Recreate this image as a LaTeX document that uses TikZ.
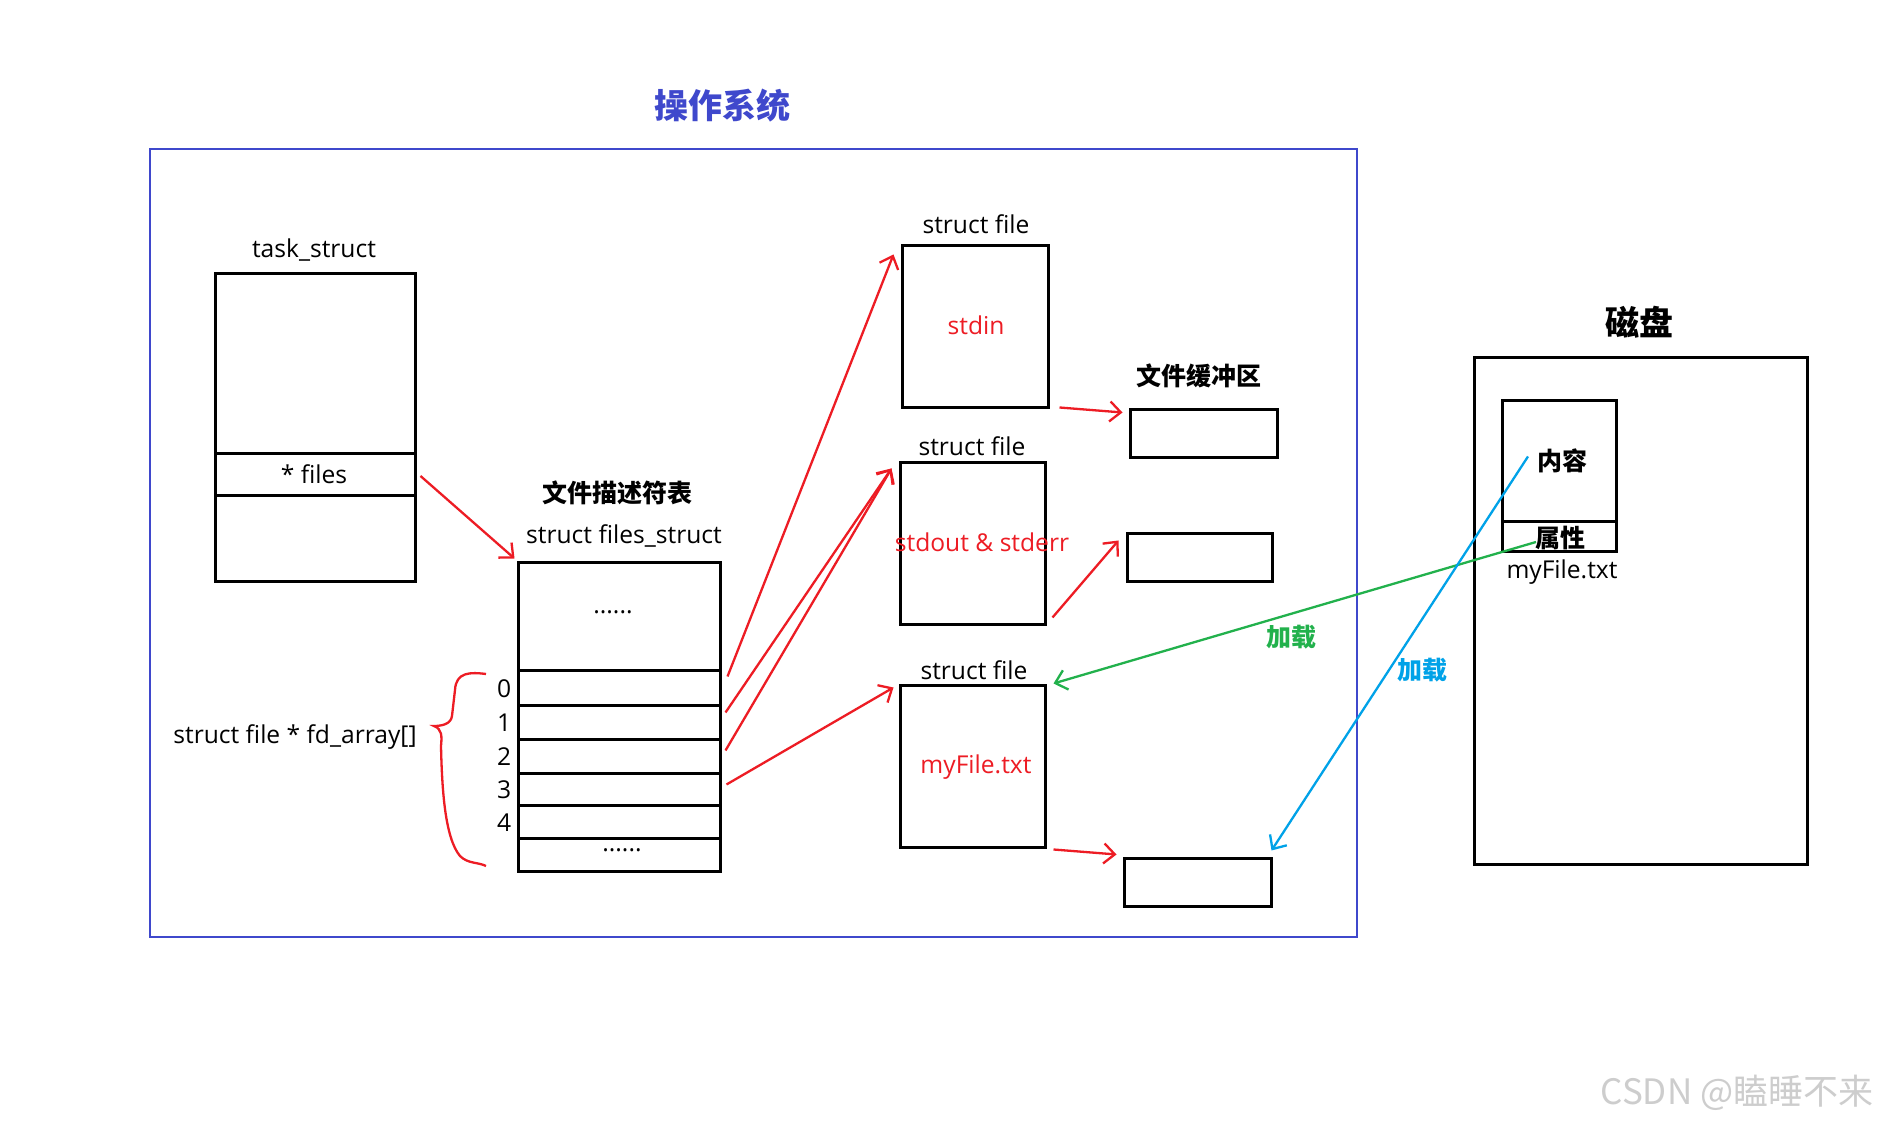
\documentclass[tikz,border=0pt]{standalone}
\usepackage{fontspec}
\setmainfont{Open Sans}
\newfontfamily\cjk{Noto Sans CJK SC}
\usetikzlibrary{arrows.meta,fit,calc}
\definecolor{osblue}{RGB}{63,72,204}
\definecolor{pred}{RGB}{237,28,36}
\definecolor{pgreen}{RGB}{34,177,76}
\definecolor{pblue}{RGB}{0,162,232}
\definecolor{wmgray}{RGB}{205,205,205}
\begin{document}
\begin{tikzpicture}[x=0.5pt,y=-0.5pt,
  box/.style={draw=black,line width=1.5pt,inner sep=0pt},
  lbl/.style={font=\fontsize{12.3}{14}\selectfont,inner sep=0pt},
  redlbl/.style={lbl,text=pred},
  cjklbl/.style={font=\cjk\bfseries\fontsize{12.5}{14}\selectfont,inner sep=0pt},
  bigcjk/.style={font=\cjk\bfseries\fontsize{17}{19}\selectfont,inner sep=0pt},
  tipstyle/.style={-{Straight Barb[length=5.5pt,width=10pt]}},
  rarrow/.style={draw=pred,line width=1.15pt,tipstyle},
  garrow/.style={draw=pgreen,line width=1.15pt,tipstyle},
  barrow/.style={draw=pblue,line width=1.15pt,tipstyle}
]
\useasboundingbox[fill=white] (0,0) rectangle (1881,1127);

% OS frame and title
\node[draw=osblue,line width=1.4pt,inner sep=0pt,fit={(150,149)(1357,937)}] (os) {};
\node[bigcjk,text=osblue] (ostitle) at (722,106) {操作系统};

% task_struct
\node[lbl] (tasklbl) at (314,250) {task\_struct};
\node[box,fit={(215,274)(415,582)}] (task) {};
\node[box,fit={(215,454)(415,496)}] (filesrow) {};
\node[lbl] (fileslbl) at (314,474) {* files};

% files_struct
\node[cjklbl] (fdtlbl) at (617,493) {文件描述符表};
\node[lbl] (fslbl) at (624,536) {struct files\_struct};
\node[box,fit={(518,563)(720,872)}] (fs) {};
\node[box,fit={(518,671)(720,706)}] (r0) {};
\node[box,fit={(518,706)(720,740)}] (r1) {};
\node[box,fit={(518,740)(720,774)}] (r2) {};
\node[box,fit={(518,774)(720,806)}] (r3) {};
\node[box,fit={(518,806)(720,839)}] (r4) {};
\node[lbl] (dotstop) at (613,612) {......};
\node[lbl] (dotsbot) at (622,850) {......};
\foreach \r/\t in {r0/0,r1/1,r2/2,r3/3,r4/4}{
  \node[lbl,anchor=east] (idx\t) at ($(\r.west)+(-5,0)$) {\t};
}
\node[lbl] (fdarr) at (295,737) {struct file * fd\_array[]};
\draw[pred,line width=1.15pt] (486,674) .. controls (470,672) and (456,672) .. (455,690)
  -- (452,716) .. controls (451,724) and (442,726) .. (434,726)
  .. controls (442,729) and (442,736) .. (441,746)
  .. controls (442,790) and (445,838) .. (460,856)
  .. controls (468,864) and (478,862) .. (486,866);

% struct file boxes
\node[lbl] (sf1lbl) at (976,224) {struct file};
\node[box,fit={(902,246)(1048,408)}] (sf1) {};
\node[redlbl] (stdin) at (976,325) {stdin};
\node[lbl] (sf2lbl) at (972,446) {struct file};
\node[box,fit={(900,463)(1045,625)}] (sf2) {};
\node[redlbl] (stdout) at (982,542) {stdout \& stderr};
\node[lbl] (sf3lbl) at (974,670) {struct file};
\node[box,fit={(900,686)(1045,848)}] (sf3) {};
\node[redlbl] (myf) at (976,767) {myFile.txt};

% buffers
\node[cjklbl] (buflbl) at (1199,376) {文件缓冲区};
\node[box,fit={(1130,410)(1277,458)}] (buf1) {};
\node[box,fit={(1127,534)(1272,582)}] (buf2) {};
\node[box,fit={(1124,859)(1271,907)}] (buf3) {};

% disk
\node[bigcjk] (disklbl) at (1639,322) {磁盘};
\node[box,fit={(1474,358)(1807,865)}] (disk) {};
\node[box,fit={(1502,401)(1616,552)}] (dfile) {};
\node[box,fit={(1502,401)(1616,522)}] (content) {};
\node[box,fit={(1502,522)(1616,552)}] (attr) {};
\node[cjklbl] (contentlbl) at (1562,461) {内容};
\node[cjklbl] (attrlbl) at (1560,538) {属性};
\node[lbl] (dfilelbl) at (1562,572) {myFile.txt};

% red arrows
\draw[rarrow] ($(filesrow.east)+(4,1)$) -- ($(fs.north west)+(-2,-3)$);
\draw[rarrow] ($(r0.north east)+(6,7)$) -- ($(sf1.north west)+(-7,10)$);
\draw[rarrow] ($(r1.north east)+(4,8)$) -- ($(sf2.north west)+(-7,7)$);
\draw[rarrow] ($(r2.north east)+(4,12)$) -- ($(sf2.north west)+(-7,7)$);
\draw[rarrow] ($(r3.north east)+(5,12)$) -- ($(sf3.north west)+(-5,3)$);
\draw[rarrow] ($(sf1.south east)+(10,-2)$) -- ($(buf1.north west)+(-6,4)$);
\draw[rarrow] ($(sf2.south east)+(6,-9)$) -- ($(buf2.north west)+(-7,8)$);
\draw[rarrow] ($(sf3.south east)+(7,0)$) -- ($(buf3.north west)+(-6,-3)$);

% load arrows
\draw[garrow] ($(attr.center)+(-23,5)$) -- ($(sf3.north east)+(7,-1)$);
\node[cjklbl,text=pgreen] (loadg) at (1291,637) {加载};
\draw[barrow] ($(content.center)+(-31,-5)$) -- ($(buf3.north east)+(-1,-7)$);
\node[cjklbl,text=pblue] (loadb) at (1422,670) {加载};

% watermark
\node[font=\cjk\fontsize{17.5}{19}\selectfont,text=wmgray,inner sep=0pt] (wm) at (1737,1093) {CSDN @瞌睡不来};
\end{tikzpicture}
\end{document}
